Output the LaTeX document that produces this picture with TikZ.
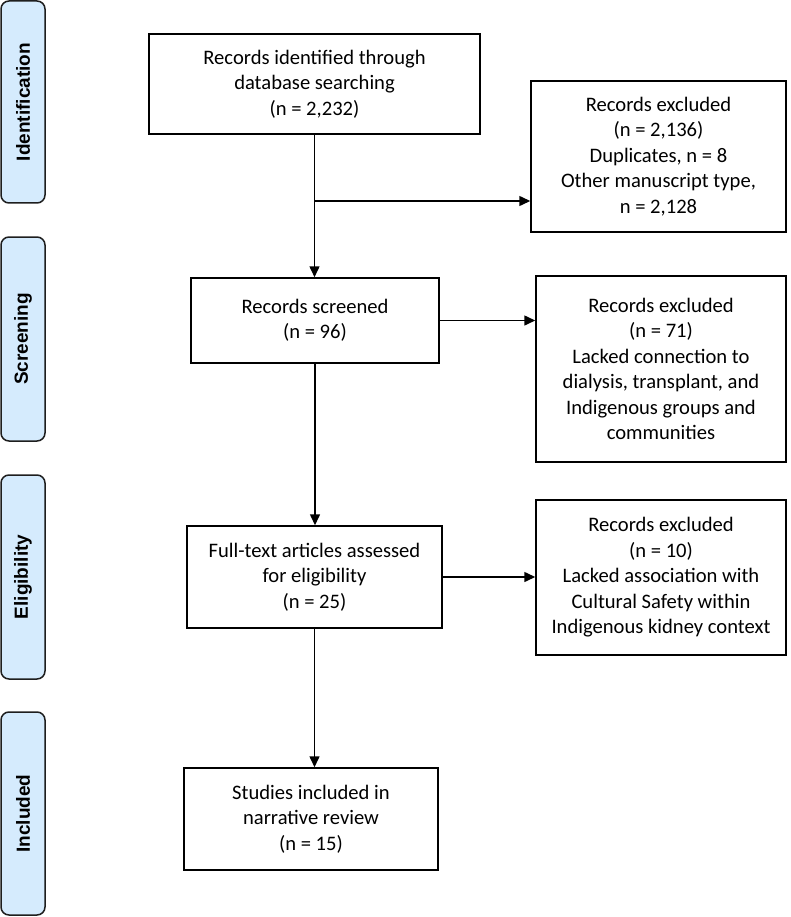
\documentclass[tikz,border=0pt]{standalone}
\usepackage{fontspec}
\setmainfont{Carlito}
\newfontfamily\labfont{Liberation Sans}
\usetikzlibrary{arrows.meta}
\definecolor{barfill}{HTML}{D5EBFD}
\definecolor{barline}{HTML}{1E1E1E}
\tikzset{
  flowbox/.style={draw=black, line width=1.5pt, align=center, inner sep=0pt,
    font=\fontsize{20.6}{25.5}\selectfont},
  phasebar/.style={draw=barline, fill=barfill, line width=1.5pt, rounded corners=8pt,
    minimum width=44pt, inner sep=0pt},
  phasetext/.style={rotate=90, font=\labfont\bfseries\fontsize{19}{22}\selectfont},
  flowarrow/.style={line width=1.5pt, -{Triangle[length=11pt,width=10pt]}}
}
\begin{document}
\begin{tikzpicture}[x=1pt,y=-1pt]
\useasboundingbox (0,0) rectangle (791,917);
% phase bars
\node[phasebar, minimum height=202pt] (pid) at (23,102) {};
\node[phasetext] (tid) at (pid.center) {Identification};
\node[phasebar, minimum height=204pt] (psc) at (23,339) {};
\node[phasetext] (tsc) at (psc.center) {Screening};
\node[phasebar, minimum height=204pt] (pel) at (23,577) {};
\node[phasetext] (tel) at (pel.center) {Eligibility};
\node[phasebar, minimum height=203pt] (pin) at (23,813.5) {};
\node[phasetext] (tin) at (pin.center) {Included};
% boxes
\node[flowbox, minimum width=331pt, minimum height=100pt] (b1) at (314.5,84)
  {Records identified through\\database searching\\(n = 2,232)};
\node[flowbox, minimum width=255pt, minimum height=151pt] (e1) at (658.5,156.5)
  {Records excluded\\(n = 2,136)\\Duplicates, n = 8\\Other manuscript type,\\n = 2,128};
\node[flowbox, minimum width=248pt, minimum height=85pt] (sc) at (315,320.5)
  {Records screened\\(n = 96)};
\node[flowbox, minimum width=250pt, minimum height=186pt] (e2) at (661,369)
  {Records excluded\\(n = 71)\\Lacked connection to\\dialysis, transplant, and\\Indigenous groups and\\communities};
\node[flowbox, minimum width=255pt, minimum height=102pt] (ft) at (314.5,577)
  {Full-text articles assessed\\for eligibility\\(n = 25)};
\node[flowbox, minimum width=250pt, minimum height=155pt] (e3) at (661,577.5)
  {Records excluded\\(n = 10)\\Lacked association with\\Cultural Safety within\\Indigenous kidney context};
\node[flowbox, minimum width=254pt, minimum height=102pt] (st) at (311,819)
  {Studies included in\\narrative review\\(n = 15)};
% connectors
\coordinate (br) at (314.5,201);
\draw[flowarrow] (b1.south) -- (b1.south |- sc.north);
\draw[flowarrow] (br) -- (br -| e1.west);
\draw[flowarrow] (sc.east) -- (sc.east -| e2.west);
\draw[flowarrow] (sc.south) -- (sc.south |- ft.north);
\draw[flowarrow] (ft.east) -- (ft.east -| e3.west);
\draw[flowarrow] (ft.south) -- (ft.south |- st.north);
\end{tikzpicture}
\end{document}
